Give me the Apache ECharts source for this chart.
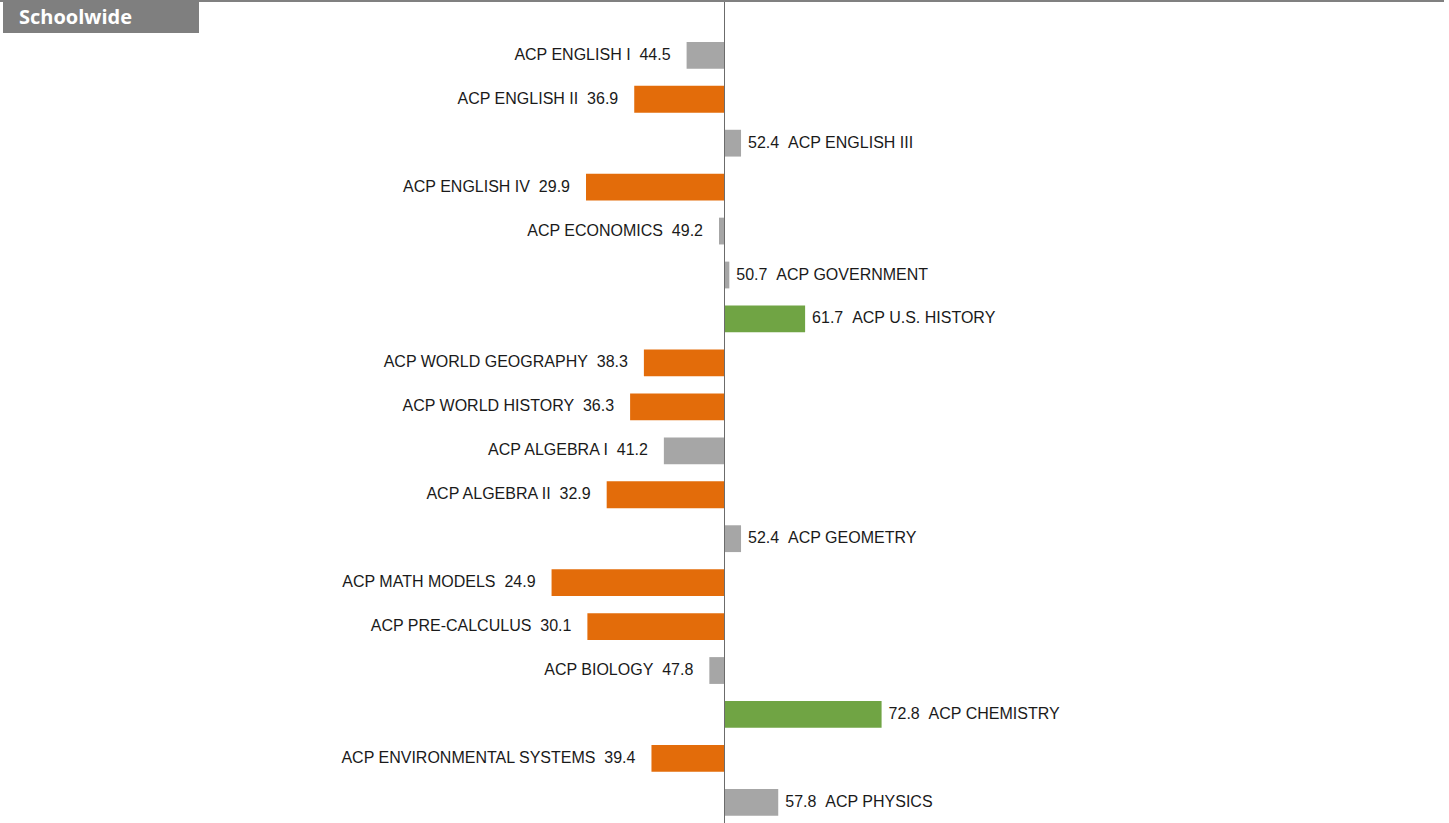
<!DOCTYPE html>
<html>
<head>
<meta charset="utf-8">
<script src="https://cdn.jsdelivr.net/npm/echarts@6/dist/echarts.min.js"></script>
<style>
html,body{margin:0;padding:0;background:#fff;}
#chart{width:1449px;height:823px;}
</style>
</head>
<body>
<div id="chart"></div>
<script>
const title = 'Schoolwide';
const categories = [
  'ACP ENGLISH I', 'ACP ENGLISH II', 'ACP ENGLISH III', 'ACP ENGLISH IV',
  'ACP ECONOMICS', 'ACP GOVERNMENT', 'ACP U.S. HISTORY', 'ACP WORLD GEOGRAPHY',
  'ACP WORLD HISTORY', 'ACP ALGEBRA I', 'ACP ALGEBRA II', 'ACP GEOMETRY',
  'ACP MATH MODELS', 'ACP PRE-CALCULUS', 'ACP BIOLOGY', 'ACP CHEMISTRY',
  'ACP ENVIRONMENTAL SYSTEMS', 'ACP PHYSICS'
];
const values = [
  44.5, 36.9, 52.4, 29.9,
  49.2, 50.7, 61.7, 38.3,
  36.3, 41.2, 32.9, 52.4,
  24.9, 30.1, 47.8, 72.8,
  39.4, 57.8
];
const baseline = 50;
const lowThreshold = 40;
const highThreshold = 60;

const ORANGE = '#E36C0A';
const GRAY = '#A6A6A6';
const GREEN = '#70A444';

const chart = echarts.init(document.getElementById('chart'), null, {renderer: 'svg'});

const data = categories.map((c, i) => [values[i], i]);

const option = {
  animation: false,
  backgroundColor: '#ffffff',
  grid: {left: 380, right: 380, top: 0, bottom: 0},
  xAxis: {
    type: 'value', min: 0, max: 100,
    show: false
  },
  yAxis: {
    type: 'value', inverse: true, min: -1.258, max: 17.47,
    show: false
  },
  graphic: [
    {type: 'line', z: 10, shape: {x1: 0, y1: 1, x2: 1444, y2: 1}, style: {stroke: '#808080', lineWidth: 2}},
    {type: 'rect', z: 11, shape: {x: 3, y: 0, width: 196, height: 33}, style: {fill: '#7F7F7F'}},
    {type: 'text', z: 12, x: 19, y: 16.5, style: {text: title, fill: '#ffffff', font: 'bold 20px "Open Sans", sans-serif', textVerticalAlign: 'middle'}}
  ],
  series: [{
    type: 'custom',
    data: data,
    encode: {x: 0, y: 1},
    renderItem: function (params, api) {
      const v = api.value(0);
      const idx = api.value(1);
      const p0 = api.coord([baseline, idx]);
      const p1 = api.coord([v, idx]);
      const h = api.size([0, 1])[1] * 0.61;
      const x = Math.min(p0[0], p1[0]);
      const w = Math.abs(p1[0] - p0[0]);
      const color = v < lowThreshold ? ORANGE : (v > highThreshold ? GREEN : GRAY);
      const left = v < baseline;
      const cat = categories[idx];
      const txt = left ? cat + '\u00a0\u00a0' + v.toFixed(1) : v.toFixed(1) + '\u00a0\u00a0' + cat;
      return {
        type: 'group',
        children: [
          {type: 'rect', shape: {x: x, y: p0[1] - h / 2, width: w, height: h}, style: {fill: color}},
          {type: 'text', x: left ? p1[0] - 16 : p1[0] + 7, y: p0[1] - 1,
            style: {text: txt, textAlign: left ? 'right' : 'left', textVerticalAlign: 'middle',
              font: '16px "Liberation Sans", Arial, sans-serif', fill: '#1a1a1a'}}
        ]
      };
    },
    markLine: {
      silent: true,
      symbol: 'none',
      label: {show: false},
      lineStyle: {color: '#6b6b6b', width: 1, type: 'solid'},
      data: [{xAxis: baseline}]
    },
    z: 2
  }]
};
chart.setOption(option);
</script>
</body>
</html>
